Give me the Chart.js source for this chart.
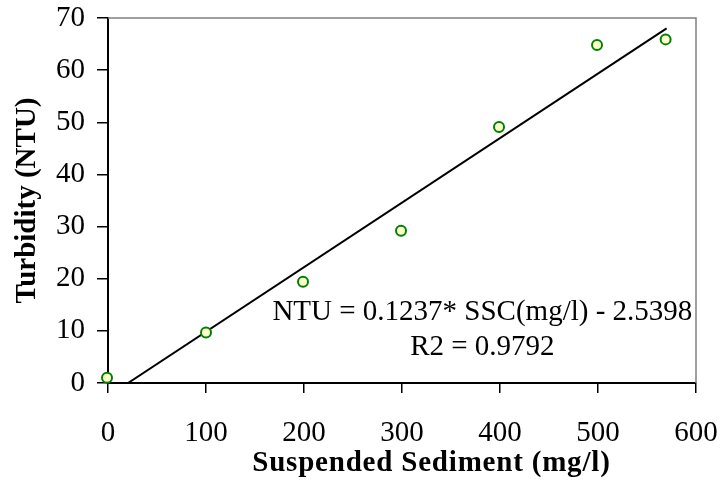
<!DOCTYPE html>
<html>
<head>
<meta charset="utf-8">
<script src="https://cdn.jsdelivr.net/npm/chart.js@4/dist/chart.umd.min.js"></script>
<style>
  html, body { margin: 0; padding: 0; background: #fff; }
  #wrap { width: 720px; height: 487px; }
</style>
</head>
<body>
<div id="wrap"><canvas id="chart" width="720" height="487"></canvas></div>
<script>
// measured samples
const sscValues = [-1, 100, 199, 299, 399, 499, 569];
const ntuValues = [1.0, 9.7, 19.4, 29.2, 49.1, 64.8, 65.9];

// fitted trendline end points as drawn
const trendX = [20.5, 570];
const trendY = [0, 68];

const xTicks = [0, 100, 200, 300, 400, 500, 600];
const yTicks = [0, 10, 20, 30, 40, 50, 60, 70];

const xTitle = 'Suspended Sediment (mg/l)';
const yTitle = 'Turbidity (NTU)';
const equationLines = ['NTU = 0.1237* SSC(mg/l) - 2.5398', 'R2 = 0.9792'];

const serif = "'Liberation Serif', 'DejaVu Serif', serif";

// no extra room for overhanging tick labels, the plot box is fixed
function noScalePadding(axis) {
    axis.paddingTop = 0;
    axis.paddingBottom = 0;
    axis.paddingLeft = 0;
    axis.paddingRight = 0;
}

// gray frame on top and right, the x title (sits right of centre) and the regression text
const framePlugin = {
    id: 'frame',
    afterDraw(chart) {
        const { ctx, chartArea: a, scales } = chart;
        ctx.save();
        ctx.strokeStyle = '#808080';
        ctx.lineWidth = 1.5;
        ctx.beginPath();
        ctx.moveTo(a.left, a.top);
        ctx.lineTo(a.right, a.top);
        ctx.lineTo(a.right, a.bottom);
        ctx.stroke();

        ctx.fillStyle = '#000';
        ctx.textAlign = 'center';
        ctx.textBaseline = 'middle';

        ctx.font = 'bold 29px ' + serif;
        ctx.letterSpacing = '0.8px';
        ctx.fillText(xTitle, a.left + (a.right - a.left) * 0.55, 464);
        ctx.letterSpacing = '0px';

        ctx.font = '29px ' + serif;
        const cx = scales.x.getPixelForValue(382);
        ctx.fillText(equationLines[0], cx, scales.y.getPixelForValue(13.6));
        ctx.fillText(equationLines[1], cx, scales.y.getPixelForValue(6.9));
        ctx.restore();
    }
};

new Chart(document.getElementById('chart'), {
    type: 'scatter',
    data: {
        datasets: [
            {
                label: 'Trend',
                type: 'line',
                data: trendX.map((x, i) => ({ x, y: trendY[i] })),
                borderColor: '#000',
                borderWidth: 2,
                pointRadius: 0,
                fill: false,
                order: 2
            },
            {
                label: 'Samples',
                data: sscValues.map((x, i) => ({ x, y: ntuValues[i] })),
                backgroundColor: '#ffffcc',
                borderColor: '#008000',
                borderWidth: 2,
                pointRadius: 5,
                clip: false,
                order: 1
            }
        ]
    },
    plugins: [framePlugin],
    options: {
        responsive: false,
        animation: false,
        layout: { padding: { top: 18, right: 24, left: 0, bottom: 0 } },
        plugins: {
            legend: { display: false },
            tooltip: { enabled: false }
        },
        scales: {
            x: {
                type: 'linear',
                min: 0,
                max: 600,
                afterBuildTicks: axis => { axis.ticks = xTicks.map(v => ({ value: v })); },
                afterFit: axis => { axis.height = 104; noScalePadding(axis); },
                grid: { drawOnChartArea: false, tickLength: 10, color: '#000', lineWidth: 1.5 },
                border: { color: '#000', width: 2 },
                ticks: { color: '#000', font: { family: serif, size: 29 }, padding: 23 }
            },
            y: {
                type: 'linear',
                min: 0,
                max: 70,
                afterBuildTicks: axis => { axis.ticks = yTicks.map(v => ({ value: v })); },
                afterFit: axis => { axis.width = 108; noScalePadding(axis); },
                grid: { drawOnChartArea: false, tickLength: 11, color: '#000', lineWidth: 1.5 },
                border: { color: '#000', width: 2 },
                ticks: { color: '#000', font: { family: serif, size: 29 }, padding: 12 },
                title: {
                    display: true,
                    text: yTitle,
                    color: '#000',
                    font: { family: serif, size: 29, weight: 'bold' },
                    padding: { top: 10, bottom: 0 }
                }
            }
        }
    }
});
</script>
</body>
</html>
